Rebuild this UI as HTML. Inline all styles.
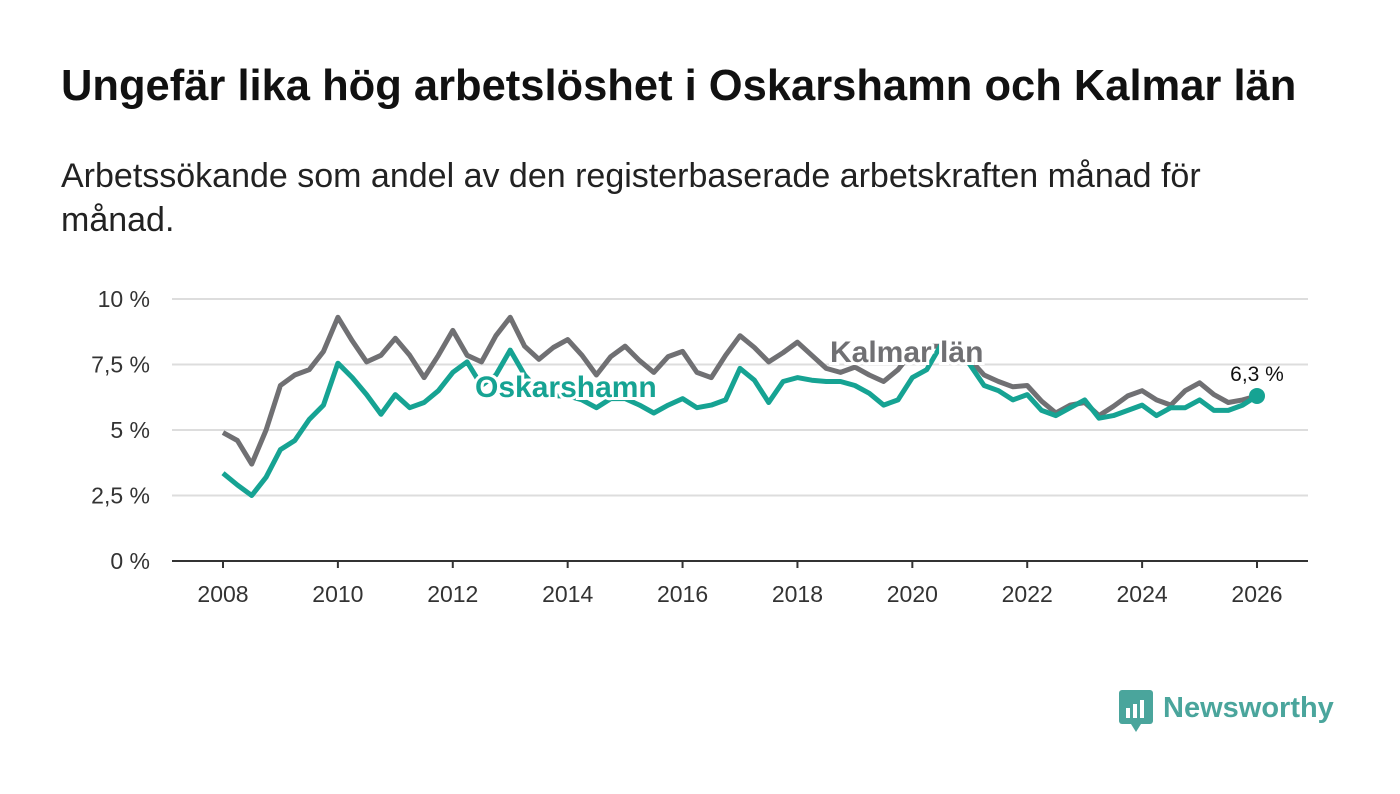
<!DOCTYPE html>
<html><head><meta charset="utf-8">
<style>
body{margin:0;width:1400px;height:794px;background:#fff;font-family:"Liberation Sans",sans-serif;overflow:hidden}
h1{position:absolute;left:61px;top:62px;margin:0;font-size:43.5px;font-weight:bold;color:#111;white-space:nowrap}
.sub{position:absolute;left:61px;top:154px;font-size:34px;line-height:44px;color:#222;width:1200px}
svg{position:absolute;left:0;top:0}
</style></head><body>
<h1>Ungefär lika hög arbetslöshet i Oskarshamn och Kalmar län</h1>
<div class="sub">Arbetssökande som andel av den registerbaserade arbetskraften månad för månad.</div>
<svg id="c" width="1400" height="794"></svg>
<div style="position:absolute;left:1119px;top:690px;display:flex;align-items:center">
 <svg width="36" height="44" style="position:static"><rect x="0" y="0" width="34" height="34" rx="3" fill="#4aa59c"/><path d="M12 34 L17 42 L22 34Z" fill="#4aa59c"/><rect x="7" y="18" width="4" height="10" fill="#fff"/><rect x="14" y="14" width="4" height="14" fill="#fff"/><rect x="21" y="10" width="4" height="18" fill="#fff"/></svg>
 <span style="font-size:29px;font-weight:bold;color:#4aa59c;margin-left:8px;margin-top:-8px">Newsworthy</span>
</div>
<script>
const years=[2008,2010,2012,2014,2016,2018,2020,2022,2024,2026];
const yTicks=[0,2.5,5,7.5,10];
const yTickLabels=["0 %","2,5 %","5 %","7,5 %","10 %"];
const startYear=2008, step=0.25;
const kalmar=[4.9,4.6,3.7,5.0,6.7,7.1,7.3,8.0,9.3,8.4,7.6,7.85,8.5,7.85,7.0,7.85,8.8,7.85,7.6,8.6,9.3,8.2,7.7,8.15,8.45,7.85,7.1,7.8,8.2,7.65,7.2,7.8,8.0,7.2,7.0,7.85,8.6,8.15,7.6,7.95,8.35,7.85,7.35,7.2,7.4,7.1,6.85,7.3,8.0,8.2,8.2,7.8,7.7,7.1,6.85,6.65,6.7,6.1,5.65,5.95,6.05,5.55,5.9,6.3,6.5,6.15,5.95,6.5,6.8,6.35,6.05,6.15,6.3];
const oskarshamn=[3.35,2.9,2.5,3.2,4.25,4.6,5.4,5.95,7.55,7.0,6.35,5.6,6.35,5.85,6.05,6.5,7.2,7.6,6.7,7.1,8.05,7.1,6.5,6.3,6.3,6.15,5.85,6.2,6.2,5.95,5.65,5.95,6.2,5.85,5.95,6.15,7.35,6.9,6.05,6.85,7.0,6.9,6.85,6.85,6.7,6.4,5.95,6.15,7.0,7.3,8.25,8.25,7.5,6.7,6.5,6.15,6.35,5.75,5.55,5.85,6.15,5.45,5.55,5.75,5.95,5.55,5.85,5.85,6.15,5.75,5.75,5.95,6.3];
const X=y=>223+(y-2008)*(1257-223)/18;
const Y=v=>561-v*26.2;
const s=document.getElementById('c'),NS="http://www.w3.org/2000/svg";
function el(t,a,txt){const e=document.createElementNS(NS,t);for(const k in a)e.setAttribute(k,a[k]);if(txt!=null)e.textContent=txt;s.appendChild(e);return e;}
yTicks.forEach((v,i)=>{
 const g=el('line',{x1:172,x2:1308,y1:Y(v),y2:Y(v),stroke:v===0?'#333':'#ddd','stroke-width':2});
 
 
 const t=el('text',{x:150,y:Y(v)+8,'text-anchor':'end','font-size':23,fill:'#333'},yTickLabels[i]);
 
 
});
years.forEach(yr=>{
 const tk=el('line',{x1:X(yr),x2:X(yr),y1:561,y2:568,stroke:'#333','stroke-width':2});
 
 
 const t=el('text',{x:X(yr),y:602,'text-anchor':'middle','font-size':23,fill:'#333'},String(yr));
 
 
});
function pts(arr){return arr.map((v,i)=>X(startYear+i*step).toFixed(1)+','+Y(v).toFixed(1)).join(' ');}
const l1=el('polyline',{points:pts(kalmar),fill:'none',stroke:'#707073','stroke-width':5,'stroke-linejoin':'round'});


const l2=el('polyline',{points:pts(oskarshamn),fill:'none',stroke:'#16a393','stroke-width':5,'stroke-linejoin':'round'});


const lk=el('text',{x:830,y:362,'font-size':30,'font-weight':'bold',fill:'#707073',stroke:'#fff','stroke-width':6,'paint-order':'stroke'},'Kalmar län');


const lo=el('text',{x:475,y:397,'font-size':30,'font-weight':'bold',fill:'#16a393',stroke:'#fff','stroke-width':6,'paint-order':'stroke'},'Oskarshamn');


const last=oskarshamn[oskarshamn.length-1];
const d=el('circle',{cx:X(2026),cy:Y(last),r:8,fill:'#16a393'});


const lv=el('text',{x:X(2026),y:Y(last)-15,'text-anchor':'middle','font-size':21,fill:'#111'},String(last).replace('.',',')+' %');


</script>
</body></html>
